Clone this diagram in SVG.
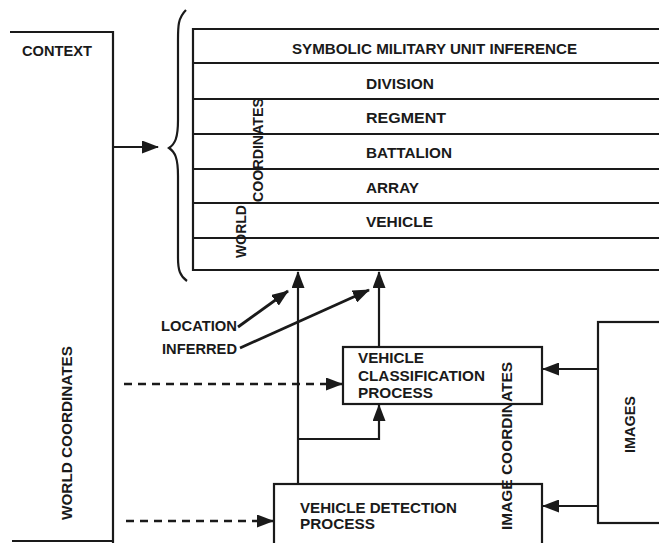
<svg xmlns="http://www.w3.org/2000/svg" width="659" height="543" viewBox="0 0 659 543">
<defs>
<style>
.ln{stroke:#1a1a1a;stroke-width:2.2;fill:none}
.th{stroke-width:2.8}
.bx{stroke:#1a1a1a;stroke-width:2.2;fill:#fff}
.ds{stroke:#1a1a1a;stroke-width:2.4;fill:none;stroke-dasharray:8,6}
.t{font-family:"Liberation Sans",Arial,sans-serif;font-weight:bold;font-size:15.5px;fill:#1a1a1a}
</style>
<marker id="ah" viewBox="0 0 17 13" refX="16" refY="6.5" markerWidth="17" markerHeight="13" markerUnits="userSpaceOnUse" orient="auto">
<path d="M0,0 L17,6.5 L0,13 z" fill="#1a1a1a"/>
</marker>
</defs>
<rect width="659" height="543" fill="#fff"/>

<g id="context">
<path class="ln" d="M10,32 H113 V543 M12,541 H113"/>
<text class="t" x="22" y="56" textLength="70" lengthAdjust="spacingAndGlyphs">CONTEXT</text>
<text class="t" transform="translate(72,520) rotate(-90)" textLength="174" lengthAdjust="spacingAndGlyphs">WORLD  COORDINATES</text>
</g>

<g id="brace">
<path class="ln" stroke-width="2.6" d="M186,10 C178,18 178,26 178,40 V120 C178,138 175,144 169,148 C175,152 178,158 178,176 V258 C178,270 180,276 187,281"/>
</g>

<g id="stack">
<path class="ln" d="M665,29 H193 V270 H665 M193,63 H665 M193,99 H665 M193,134 H665 M193,169 H665 M193,203 H665 M193,238 H665"/>
<text class="t" x="292" y="54" textLength="285" lengthAdjust="spacingAndGlyphs">SYMBOLIC MILITARY UNIT INFERENCE</text>
<text class="t" x="366" y="89" textLength="68" lengthAdjust="spacingAndGlyphs">DIVISION</text>
<text class="t" x="366" y="123" textLength="80" lengthAdjust="spacingAndGlyphs">REGMENT</text>
<text class="t" x="366" y="158" textLength="86" lengthAdjust="spacingAndGlyphs">BATTALION</text>
<text class="t" x="366" y="193" textLength="53" lengthAdjust="spacingAndGlyphs">ARRAY</text>
<text class="t" x="366" y="227" textLength="67" lengthAdjust="spacingAndGlyphs">VEHICLE</text>
<text class="t" transform="translate(246,258) rotate(-90)" textLength="53" lengthAdjust="spacingAndGlyphs">WORLD</text>
<text class="t" transform="translate(263,202) rotate(-90)" textLength="104" lengthAdjust="spacingAndGlyphs">COORDINATES</text>
</g>

<g id="classification">
<rect class="bx" x="343" y="347" width="199" height="57"/>
<text class="t" x="358" y="363" textLength="66" lengthAdjust="spacingAndGlyphs">VEHICLE</text>
<text class="t" x="358" y="381" textLength="127" lengthAdjust="spacingAndGlyphs">CLASSIFICATION</text>
<text class="t" x="358" y="398" textLength="75" lengthAdjust="spacingAndGlyphs">PROCESS</text>
</g>

<g id="detection">
<rect class="bx" x="274" y="484" width="268" height="70"/>
<text class="t" x="300" y="513" textLength="157" lengthAdjust="spacingAndGlyphs">VEHICLE DETECTION</text>
<text class="t" x="300" y="529" textLength="75" lengthAdjust="spacingAndGlyphs">PROCESS</text>
</g>

<g id="images">
<rect class="bx" x="598" y="322" width="70" height="201"/>
<text class="t" transform="translate(635,453) rotate(-90)" textLength="57" lengthAdjust="spacingAndGlyphs">IMAGES</text>
</g>

<g id="labels">
<text class="t" x="161" y="331" textLength="76" lengthAdjust="spacingAndGlyphs">LOCATION</text>
<text class="t" x="162" y="354" textLength="75" lengthAdjust="spacingAndGlyphs">INFERRED</text>
<text class="t" transform="translate(512,530) rotate(-90)" textLength="168" lengthAdjust="spacingAndGlyphs">IMAGE  COORDINATES</text>
</g>

<g id="connectors">
<line class="ln" x1="113" y1="147" x2="158" y2="147" marker-end="url(#ah)"/>
<line class="ln" x1="298" y1="484" x2="298" y2="272" marker-end="url(#ah)"/>
<line class="ln" x1="379" y1="347" x2="379" y2="272" marker-end="url(#ah)"/>
<path class="ln" d="M298,439 H379 V405" marker-end="url(#ah)"/>
<line class="ln th" x1="238" y1="327" x2="288" y2="291" marker-end="url(#ah)"/>
<line class="ln th" x1="240" y1="348" x2="369" y2="290" marker-end="url(#ah)"/>
<line class="ds" x1="124" y1="384" x2="342" y2="384" marker-end="url(#ah)"/>
<line class="ds" x1="126" y1="521" x2="273" y2="521" marker-end="url(#ah)"/>
<line class="ln" x1="598" y1="369" x2="543" y2="369" marker-end="url(#ah)"/>
<line class="ln" x1="598" y1="506" x2="543" y2="506" marker-end="url(#ah)"/>
</g>
</svg>
